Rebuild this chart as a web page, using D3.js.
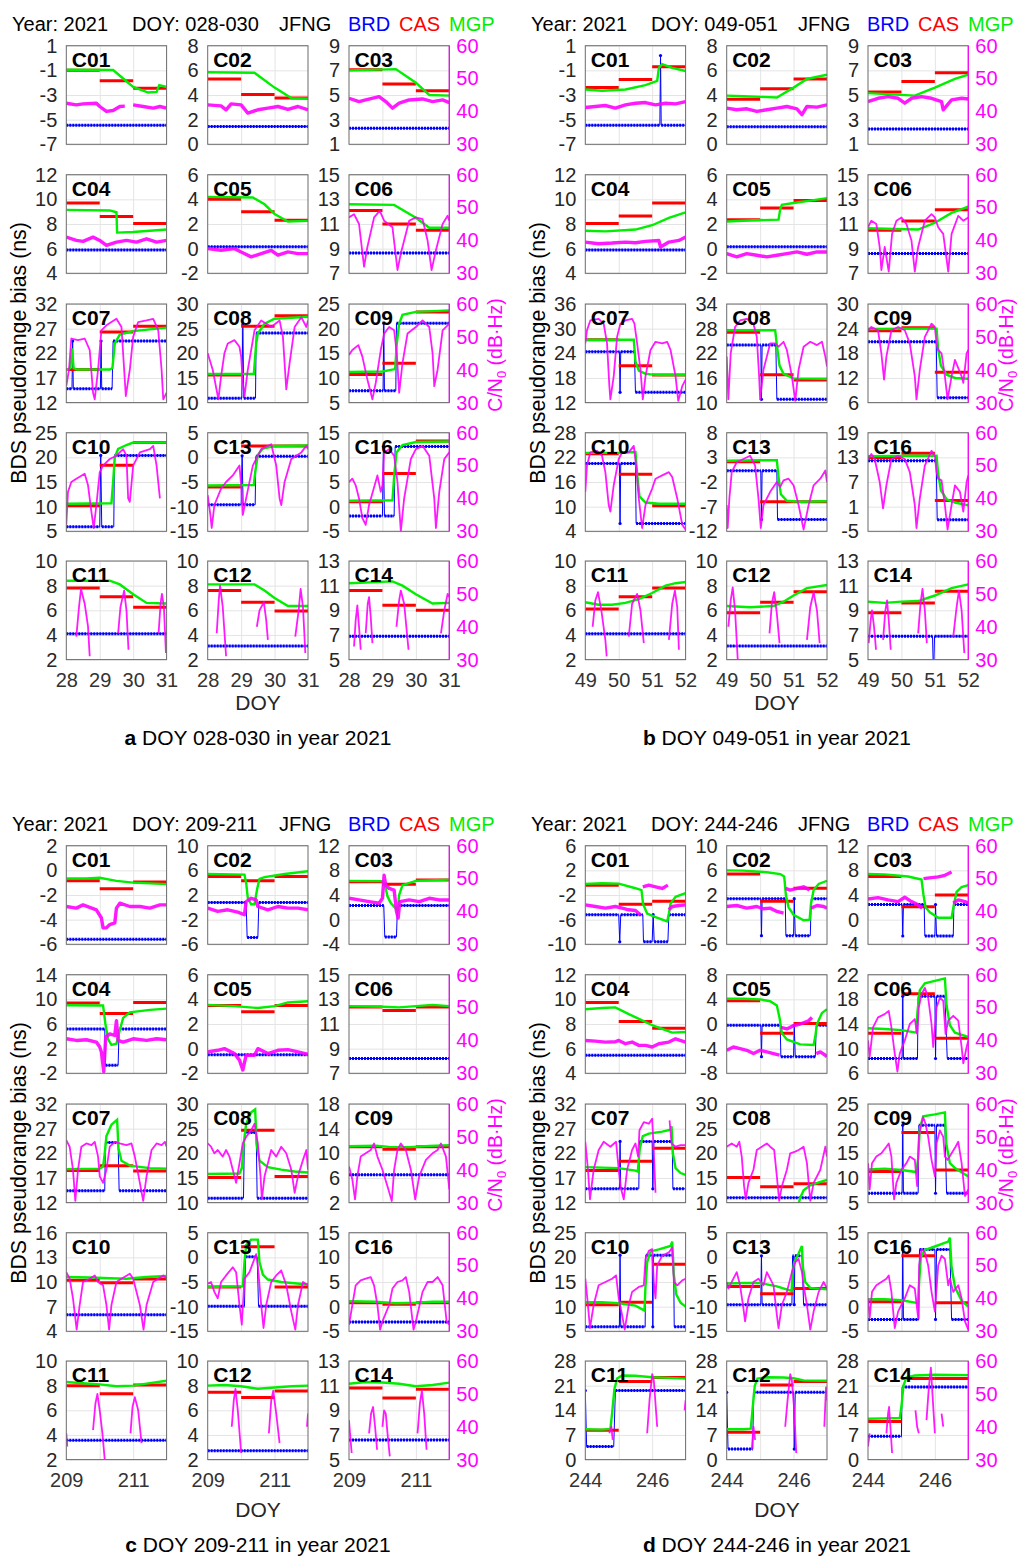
<!DOCTYPE html>
<html>
<head>
<meta charset="utf-8">
<script src="https://cdn.jsdelivr.net/npm/d3@7"></script>
<style>
  body { margin: 0; background: #fff; }
  svg text { font-family: 'Liberation Sans', Arial, Helvetica, sans-serif; }
</style>
</head>
<body>
<svg id="chart" width="1020" height="1556"></svg>
<script>
// ---- data (t = days since first DOY of the panel) ----
const year = 2021;
const station = "JFNG";
const panelStart = [28, 49, 209, 244];
const panelDoy = ["028-030", "049-051", "209-211", "244-246"];
const panelLetter = ["a", "b", "c", "d"];
const satNames = ["C01","C02","C03","C04","C05","C06","C07","C08","C09","C10","C13","C16","C11","C12","C14"];
const cnTicks = [30, 40, 50, 60];
const xTicksAB = [0, 1, 2, 3];
const xTicksCD = [0, 2];

// [min, max, step] of the left (bias) axis
const yAxisA = [[-7,1,2],[0,8,2],[1,9,2],[4,12,2],[-2,6,2],[7,15,2],[12,32,5],[10,30,5],[5,25,5],[5,25,5],[-15,5,5],[-5,15,5],[2,10,2],[2,10,2],[5,13,2]];
const yAxisB = [[-7,1,2],[0,8,2],[1,9,2],[4,12,2],[-2,6,2],[7,15,2],[12,36,6],[10,34,6],[6,30,6],[4,28,6],[-12,8,5],[-5,19,6],[2,10,2],[2,10,2],[5,13,2]];
const yAxisC = [[-6,2,2],[-6,10,4],[-4,12,4],[-2,14,4],[-2,6,2],[7,15,2],[12,32,5],[10,30,5],[2,18,4],[4,16,3],[-15,5,5],[-5,15,5],[2,10,2],[2,10,2],[5,13,2]];
const yAxisD = [[-10,6,4],[-6,10,4],[-4,12,4],[4,12,2],[-8,8,4],[6,22,4],[12,32,5],[10,30,5],[5,25,5],[5,25,5],[-15,5,5],[-5,15,5],[0,28,7],[0,28,7],[0,28,7]];

// CAS daily values (day 1, 2, 3)
const casA = [[-1.0,-1.85,-2.45],[5.3,4.05,3.75],[7.05,5.9,5.35],[9.7,8.6,8.05],[4.0,3.0,2.3],[12.1,11.0,10.5],[18.7,26.3,27.5],[15.6,25.5,27.6],[10.7,13.0,23.4],[10.2,18.4,23.0],[-6.0,2.3,2.3],[1.0,6.7,13.3],[7.8,7.1,6.25],[7.6,6.65,5.95],[10.6,9.4,9.0]];
const casB = [[-2.4,-1.75,-0.7],[3.65,4.5,5.3],[5.25,6.1,6.8],[8.05,8.65,9.7],[2.35,3.3,3.9],[10.5,11.25,12.15],[27.3,21.0,18.7],[27.1,16.8,15.5],[23.5,24.2,13.4],[22.9,17.9,10.2],[2.1,-6.0,-6.0],[12.9,14.0,2.5],[6.1,7.1,7.8],[5.8,6.65,7.5],[8.8,9.6,10.55]];
const casC = [[-0.85,-1.5,-0.95],[5.0,4.3,5.0],[6.15,5.75,6.45],[9.4,7.7,9.5],[3.5,3.0,3.5],[12.37,12.1,12.37],[18.5,19.5,18.4],[15.1,24.7,15.3],[11.05,10.65,11.05],[10.2,9.9,10.35],[-6.0,2.15,-6.0],[0.8,0.5,0.8],[8.0,7.35,8.05],[7.47,7.04,7.57],[10.8,10.0,10.7]];
const casD = [[-0.4,-3.5,-3.0],[5.4,0.97,3.1],[7.0,2.1,4.0],[9.75,8.2,7.66],[3.77,-1.5,0.1],[12.5,18.9,11.7],[18.5,20.4,23.0],[15.1,13.2,13.8],[11.3,19.2,11.6],[10.4,10.9,18.6],[-5.9,-7.4,-6.3],[1.0,10.3,0.8],[8.3,22.2,23.3],[7.8,21.2,22.2],[10.8,23.0,23.0]];

// BRD runs [tStart, tEnd, value]
const brdA = [
  [[0,3,-5.45]],[[0,3,1.45]],[[0,3,2.3]],[[0,3,5.9]],[[0,3,0.15]],[[0,3,8.65]],
  [[0,0.17,14.8],[0.19,0.19,24.5],[0.21,1.02,14.8],[1.04,1.04,24.5],[1.06,1.37,14.8],[1.4,3,24.5]],
  [[0,1.02,10.9],[1.05,1.05,25.8],[1.08,1.43,10.9],[1.45,3,24.1]],
  [[0,1.02,7.4],[1.04,1.04,21.1],[1.06,1.4,7.4],[1.42,3,21.1]],
  [[0,1.0,5.9],[1.03,1.03,20.4],[1.06,1.42,5.9],[1.44,3,20.4]],
  [[0,1.0,-9.6],[1.03,1.03,0.3],[1.06,1.42,-9.6],[1.44,3,0.2]],
  [[0,1.0,-1.9],[1.03,1.03,12.2],[1.06,1.35,-1.9],[1.38,3,12.2]],
  [[0,3,4.1]],[[0,3,3.1]],[[0,3,6.9]]
];
const brdB = [
  [[0,2.23,-5.45],[2.25,2.25,0.2],[2.27,3,-5.45]],
  [[0,3,1.42]],[[0,3,2.25]],[[0,3,5.9]],[[0,3,0.15]],[[0,3,8.6]],
  [[0,1.02,24.4],[1.04,1.04,14.5],[1.06,1.47,24.4],[1.5,3,14.5]],
  [[0,1.02,24.0],[1.04,1.04,10.8],[1.06,1.47,24.0],[1.5,3,10.8]],
  [[0,2.04,20.8],[2.07,3,7.2]],
  [[0,1.02,20.5],[1.04,1.04,5.9],[1.06,1.5,20.5],[1.52,3,5.9]],
  [[0,1.02,0.3],[1.04,1.04,-9.6],[1.06,1.5,0.3],[1.52,3,-9.6]],
  [[0,2.04,12.2],[2.07,3,-2.2]],
  [[0,3,4.1]],[[0,3,3.1]],
  [[0,1.93,6.9],[1.95,1.97,4.6],[1.99,3,6.9]]
];
const brdC = [
  [[0,3,-5.6]],
  [[0,1.15,0.8],[1.18,1.5,-4.9],[1.53,3,0.8]],
  [[0,1.04,2.3],[1.07,1.42,-2.8],[1.45,3,2.3]],
  [[0,1.15,5.2],[1.17,1.55,-0.7],[1.58,3,5.2]],
  [[0,3,-0.5]],[[0,3,8.2]],
  [[0,1.15,14.4],[1.17,1.55,24.2],[1.58,3,14.4]],
  [[0,1.07,10.9],[1.1,1.45,24.2],[1.48,3,10.9]],
  [[0,0.86,6.5],[0.9,3,6.5]],
  [[0,3,6.0]],
  [[0,1.1,-9.9],[1.13,1.48,0.1],[1.52,3,-9.9]],
  [[0,3,-3.1]],[[0,3,3.56]],[[0,3,2.72]],[[0,3,6.6]]
];
const brdD = [
  [[0,1.0,-5.2],[1.03,1.03,-9.6],[1.06,1.72,-5.2],[1.74,2.0,-9.6],[2.03,2.03,-5.2],[2.06,2.47,-9.6],[2.5,3,-5.2]],
  [[0,1.02,1.4],[1.04,1.04,-4.6],[1.06,1.75,1.4],[1.77,2.0,-4.6],[2.02,2.02,1.4],[2.05,2.5,-4.6],[2.53,3,1.4]],
  [[0,1.02,2.45],[1.04,1.04,-2.65],[1.06,1.68,2.45],[1.7,2.0,-2.65],[2.02,2.02,2.45],[2.05,2.55,-2.65],[2.57,3,2.45]],
  [[0,3,5.46]],
  [[0,1.02,-0.2],[1.04,1.04,-5.3],[1.06,1.6,-0.2],[1.62,2.0,-5.3],[2.02,2.02,-0.2],[2.05,2.65,-5.3],[2.68,3,-0.2]],
  [[0,1.02,8.4],[1.04,1.04,18.5],[1.06,1.48,8.4],[1.5,2.0,18.5],[2.02,2.02,8.4],[2.05,2.3,18.5],[2.37,3,8.4]],
  [[0,1.02,14.8],[1.04,1.04,24.4],[1.06,1.6,14.8],[1.62,2.0,24.4],[2.02,2.02,14.8],[2.05,2.6,24.4],[2.62,3,14.8]],
  [[0,3,11.0]],
  [[0,1.02,6.9],[1.04,1.04,20.7],[1.06,1.5,6.9],[1.52,2.0,20.7],[2.02,2.02,6.9],[2.05,2.3,20.7],[2.35,3,6.9]],
  [[0,1.02,5.9],[1.04,1.04,20.45],[1.06,1.79,5.9],[1.81,2.0,20.45],[2.02,2.02,5.9],[2.04,2.64,20.45],[2.66,3,5.9]],
  [[0,1.02,-9.6],[1.04,1.04,0.3],[1.06,1.95,-9.6],[1.97,2.0,0.3],[2.02,2.02,-9.6],[2.04,2.25,0.3],[2.3,3,-9.6]],
  [[0,1.02,-2.6],[1.04,1.04,11.6],[1.06,1.52,-2.6],[1.54,2.0,11.6],[2.02,2.02,-2.6],[2.05,2.45,11.6],[2.5,3,-2.6]],
  [[0,0,19.6],[0.04,0.85,3.7],[0.9,3,19.6]],
  [[0,0,19.1],[0.04,0.78,3.0],[0.8,2.0,19.1],[2.02,2.02,3.0],[2.05,3,19.1]],
  [[0,1.0,6.6],[1.02,3,20.6]]
];

// MGP [t, value]
const mgpA = [
  [[0,-0.95],[1.4,-0.97],[2.0,-2.35],[2.45,-2.8],[2.7,-2.75],[2.78,-2.2],[3,-2.35]],
  [[0,5.85],[1.4,5.8],[2.0,4.6],[2.5,3.75],[3,3.7]],
  [[0,7.0],[1.4,7.1],[2.0,6.0],[2.4,5.0],[3,4.95]],
  [[0,9.15],[1.3,9.1],[1.5,8.95],[1.52,7.3],[2.0,7.35],[3,7.55]],
  [[0,4.2],[1.35,4.15],[1.7,3.6],[2.0,2.8],[2.4,2.2],[3,2.25]],
  [[0,12.6],[1.35,12.55],[2.0,11.5],[2.4,10.7],[3,10.7]],
  [[0,18.6],[0.12,19],[0.17,23],[0.22,19],[0.3,18.7],[1.3,18.7],[1.38,19],[1.45,24],[1.6,25.8],[2.0,26.5],[3,27.2]],
  [[0,15.8],[1.38,15.8],[1.45,22],[1.5,24],[1.7,26],[2.0,27],[3,27.4]],
  [[0,11.2],[1.0,11.3],[1.38,11.8],[1.43,17],[1.5,21],[1.6,22.8],[2.0,23.4],[3,23.7]],
  [[0,10.6],[1.35,10.7],[1.4,15],[1.45,20],[1.55,21.7],[1.8,22.5],[2.0,23],[3,23]],
  [[0,-5.7],[1.38,-5.6],[1.42,-3],[1.5,0.5],[1.65,1.8],[2.0,2.3],[3,2.4]],
  [[0,1.2],[1.3,1.3],[1.36,7],[1.42,11],[1.6,12.5],[2.0,13.1],[3,13.2]],
  [[0,8.4],[1.3,8.4],[1.6,8.1],[2.0,7.3],[2.4,6.6],[3,6.55]],
  [[0,8.1],[1.4,8.1],[1.7,7.6],[2.0,7.0],[2.4,6.35],[3,6.35]],
  [[0,11.2],[1.3,11.35],[1.6,11.0],[2.0,10.3],[2.5,9.55],[3,9.6]]
];
const mgpB = [
  [[0,-2.55],[0.5,-2.65],[1.2,-2.55],[1.8,-2.2],[2.15,-1.85],[2.2,-0.8],[2.3,-0.5],[2.6,-0.8],[3,-1.05]],
  [[0,3.95],[0.5,3.9],[1.0,3.85],[1.5,3.8],[2.0,4.6],[2.4,5.3],[3,5.65]],
  [[0,5.15],[0.7,5.05],[1.4,4.95],[2.0,5.6],[2.6,6.3],[3,6.65]],
  [[0,7.45],[0.6,7.4],[1.5,7.55],[2.0,7.9],[2.5,8.5],[3,8.95]],
  [[0,2.2],[0.8,2.3],[1.55,2.35],[1.6,3.2],[1.65,3.55],[2.0,3.7],[2.5,3.9],[3,4.1]],
  [[0,10.65],[0.8,10.6],[1.5,10.55],[2.0,11.1],[2.5,11.9],[3,12.4]],
  [[0,27.3],[1.45,27.3],[1.5,22],[1.6,19.8],[1.8,19.0],[2.2,18.7],[3,18.7]],
  [[0,27.6],[1.45,27.6],[1.5,24],[1.58,19],[1.7,17],[2.0,15.9],[3,15.8]],
  [[0,23.9],[1.5,24.0],[2.05,24.0],[2.1,19],[2.18,15],[2.35,12.8],[2.6,12.0],[3,11.8]],
  [[0,23.1],[1.0,23.1],[1.5,23.3],[1.55,18],[1.62,12.5],[1.8,11.0],[2.2,10.7],[3,10.7]],
  [[0,2.3],[1.0,2.4],[1.5,2.4],[1.55,-1],[1.62,-4.5],[1.8,-5.8],[2.2,-6.0],[3,-5.9]],
  [[0,13.3],[1.5,13.4],[2.05,13.4],[2.1,9],[2.18,5],[2.35,2.8],[2.6,2.0],[3,1.3]],
  [[0,6.65],[0.4,6.45],[0.8,6.45],[1.2,6.6],[1.6,6.9],[2.0,7.4],[2.4,8.0],[2.7,8.2],[3,8.3]],
  [[0,6.35],[0.7,6.25],[1.4,6.35],[1.7,6.7],[2.0,7.2],[2.4,7.8],[3,8.05]],
  [[0,9.7],[0.5,9.6],[1.0,9.7],[1.5,9.75],[2.0,10.2],[2.5,10.8],[3,11.1]]
];
const mgpC = [
  [[0,-0.65],[0.6,-0.65],[1.0,-0.6],[1.5,-0.85],[2.0,-1.0],[3,-1.12]],
  [[0,5.4],[1.1,5.3],[1.15,4],[1.2,1.5],[1.3,0.5],[1.4,0.5],[1.48,3],[1.55,4.6],[1.7,4.9],[2.3,5.4],[3,5.85]],
  [[0,6.3],[1.0,6.25],[1.08,5.5],[1.15,3.8],[1.25,2.7],[1.4,1.8],[1.45,1.6],[1.5,4],[1.6,5.6],[2.0,6.3],[3,6.5]],
  [[0,9.05],[1.1,9.0],[1.17,6],[1.25,3.5],[1.35,2.6],[1.5,2.8],[1.6,5],[1.7,7],[1.9,7.9],[2.5,8.3],[3,8.5]],
  [[0,3.55],[0.8,3.45],[1.5,3.3],[2.0,3.45],[2.4,3.75],[3,3.85]],
  [[0,12.45],[1.0,12.4],[1.5,12.35],[2.0,12.45],[2.5,12.55],[3,12.45]],
  [[0,18.8],[1.0,18.9],[1.1,19.3],[1.15,22],[1.2,25.5],[1.35,27.8],[1.52,28.8],[1.56,23],[1.65,20.5],[1.9,19.5],[2.5,19],[3,18.9]],
  [[0,15.8],[0.95,15.9],[1.02,17],[1.08,22],[1.15,26],[1.3,28.3],[1.42,28.9],[1.46,22],[1.55,18.5],[1.8,17.2],[2.2,16.7],[2.6,16.3],[3,16.1]],
  [[0,11.15],[0.8,11.25],[1.2,11.05],[1.8,11.0],[2.4,11.2],[3,11.3]],
  [[0,10.6],[0.7,10.55],[1.3,10.45],[1.8,10.4],[2.4,10.6],[3,10.75]],
  [[0,-6.0],[1.05,-5.9],[1.1,-1],[1.15,2.5],[1.3,3.6],[1.5,3.6],[1.55,-1],[1.65,-3.5],[1.8,-4.5],[2.2,-5.0],[3,-5.5]],
  [[0,1.1],[0.8,1.0],[1.4,0.7],[2.0,0.8],[2.5,1.0],[3,1.0]],
  [[0,8.3],[0.5,8.2],[1.0,8.1],[1.5,7.95],[2.0,8.0],[2.5,8.2],[3,8.4]],
  [[0,8.0],[0.5,8.05],[1.0,7.95],[1.5,7.75],[2.0,7.85],[2.5,7.95],[3,8.0]],
  [[0,11.15],[0.5,11.3],[1.0,11.25],[1.5,11.15],[2.0,10.95],[2.5,11.05],[3,11.25]]
];
const mgpD = [
  [[0,-0.2],[0.5,-0.1],[1.0,-0.15],[1.5,-0.9],[1.68,-1.2],[1.73,-3.5],[1.85,-5],[2.1,-5.6],[2.45,-6.3],[2.5,-5],[2.55,-3.4],[2.7,-2.3],[3,-1.7]],
  [[0,6.0],[0.5,5.95],[1.2,5.7],[1.6,5.4],[1.72,5.0],[1.77,2],[1.85,0],[2.0,-1.2],[2.3,-2.1],[2.48,-2.0],[2.52,0.5],[2.6,2.8],[2.75,3.8],[3,4.3]],
  [[0,7.4],[0.5,7.35],[1.2,7.0],[1.6,6.5],[1.66,4],[1.72,2],[1.85,1.2],[2.1,0.3],[2.5,0.3],[2.57,2.5],[2.65,4.5],[2.8,5.3],[3,5.6]],
  [[0,9.2],[0.5,9.3],[0.9,9.35],[1.3,8.8],[1.7,8.3],[2.0,7.9],[2.3,7.6],[2.6,7.3],[3,7.35]],
  [[0,4.1],[0.5,4.1],[1.0,4.0],[1.3,3.7],[1.5,3.0],[1.58,1],[1.65,-1.5],[1.8,-2.5],[2.2,-3.3],[2.6,-3.4],[2.65,-2],[2.7,0],[2.85,1.8],[3,2.4]],
  [[0,13.3],[0.5,13.2],[1.0,13.0],[1.45,12.6],[1.48,16],[1.55,19.5],[1.7,20.6],[2.0,21],[2.3,21.4],[2.35,17],[2.45,13.8],[2.6,12.6],[3,11.9]],
  [[0,19.2],[0.5,19.1],[1.0,19.0],[1.5,18.5],[1.57,18.3],[1.63,23],[1.72,25.5],[1.9,26],[2.3,26.4],[2.55,26.8],[2.58,27.5],[2.62,22],[2.7,19],[2.85,18],[3,17.6]],
  [[2.15,9.8],[2.2,11],[2.3,12.5],[2.5,13.5],[2.8,14.2],[3,14.6]],
  [[0,11.7],[0.5,11.9],[1.0,11.6],[1.45,11.2],[1.5,14],[1.55,20],[1.65,22.5],[2.0,22.9],[2.3,23.3],[2.34,17],[2.45,13],[2.6,12],[3,10.3]],
  [[0,10.9],[0.5,10.9],[1.0,10.7],[1.5,10.2],[1.77,9.2],[1.8,14],[1.85,19],[1.95,21.2],[2.2,21.6],[2.55,22.3],[2.6,23.2],[2.64,17],[2.72,12.5],[2.85,10.8],[3,10]],
  [[0,-5.3],[0.5,-5.2],[1.0,-5.2],[1.5,-5.9],[1.94,-6.8],[1.97,-3],[2.02,-1],[2.15,0.8],[2.25,2.3],[2.28,-2],[2.35,-5],[2.5,-6.2],[3,-6.5]],
  [[0,1.5],[0.5,1.5],[1.0,1.3],[1.5,0.7],[1.53,5],[1.58,10],[1.7,11.5],[2.0,12.2],[2.4,13.2],[2.45,14],[2.5,8],[2.6,4],[2.8,1.2],[3,0.0]],
  [[0,8.6],[0.5,8.5],[0.75,8.7],[0.8,13],[0.87,20],[0.95,23],[1.1,23.9],[1.5,23.8],[2.0,23.4],[2.5,23.2],[3,23.0]],
  [[0,8.6],[0.5,8.6],[0.72,8.8],[0.78,15],[0.84,21],[0.92,23],[1.2,23.4],[1.7,23.3],[2.0,23.1],[2.3,22.5],[3,22.4]],
  [[0,11.6],[0.5,11.7],[0.95,11.8],[1.0,15],[1.06,21],[1.15,23.3],[1.4,23.9],[2.0,24.1],[3,24.0]]
];

// C/N0 [t, dB-Hz], null = gap in tracking
const cn0A = [
  [[0,42.5],[0.3,42],[0.5,42.3],[0.9,42.5],[1.0,41.5],[1.2,40],[1.4,40.3],[1.6,41.5],[1.75,41.6],null,[2.0,42],[2.3,41.5],[2.6,41],[2.8,41.5],[3,41]],
  [[0,42],[0.4,41.7],[0.55,40.5],[0.7,42.3],[1.0,42],[1.2,39.5],[1.5,40.5],[1.8,41],[2.1,41.5],[2.4,40.6],[2.7,41.5],[3,40.5]],
  [[0,44],[0.3,43],[0.5,43.5],[0.9,44.5],[1.1,43],[1.3,41],[1.5,42.5],[1.8,43.5],[2.2,43.8],[2.5,43],[2.8,43.5],[3,42.7]],
  [[0,41],[0.3,40],[0.5,39.7],[0.8,41],[1.0,40],[1.2,38.5],[1.5,39.5],[1.8,40],[2.1,39.5],[2.4,40.5],[2.7,39.5],[3,40]],
  [[0,37.5],[0.4,37],[0.8,37.5],[1.0,36.5],[1.3,35],[1.6,36],[1.9,37],[2.1,35.5],[2.4,36.5],[2.7,36],[3,36]],
  [[0,47],[0.15,48],[0.3,45],[0.45,32],[0.55,38],[0.75,47],[0.92,49],[1.05,46],[1.3,44],[1.45,31],[1.55,36],[1.8,46],[2.0,47],[2.2,46.5],[2.35,40],[2.47,31],[2.6,37],[2.8,45],[2.95,47.5],[3,46]],
  [[0,35],[0.08,40],[0.15,49.5],[0.35,49],[0.55,49.5],[0.7,46],[0.8,33],[0.85,31],[0.95,40],[1.05,52],[1.2,53.5],[1.5,55.5],[1.65,53],[1.78,32],[1.9,40],[2.0,50],[2.15,54.5],[2.4,55],[2.6,55.5],[2.75,52],[2.85,40],[2.9,31],[3,33]],
  [[0,45],[0.15,40],[0.32,31],[0.4,38],[0.5,45],[0.6,48],[0.8,49],[0.95,47],[1.0,44],[1.05,36],[1.1,32],[1.2,40],[1.4,52],[1.6,55],[1.9,53],[2.15,55],[2.25,50],[2.35,34],[2.45,42],[2.6,53],[2.8,56],[2.95,53],[3,55]],
  [[0,44.5],[0.1,46],[0.28,47.5],[0.4,44],[0.55,37],[0.7,31],[0.8,36],[0.95,46],[1.05,51],[1.2,53],[1.35,52],[1.43,45],[1.5,33],[1.6,42],[1.75,51],[2.0,53],[2.2,55],[2.4,53],[2.5,45],[2.55,35],[2.65,40],[2.8,52],[3,54]],
  [[0,32],[0.05,42],[0.15,45],[0.3,46],[0.55,47.5],[0.65,44],[0.75,36],[0.82,31],[0.9,38],[1.0,48],[1.1,50],[1.3,52],[1.5,53],[1.7,55],[1.8,53],[1.85,40],[1.9,39],[2.0,50],[2.2,54],[2.5,55],[2.6,56],[2.7,50],[2.8,40]],
  [[0,41],[0.08,35],[0.12,31],[0.2,38],[0.4,43],[0.55,45],[0.75,47],[0.95,50],[1.0,44],[1.05,35],[1.15,40],[1.35,50],[1.6,55],[1.9,56.5],[2.05,50],[2.15,40],[2.2,38],[2.3,45],[2.5,52],[2.8,54],[2.95,56],[3,55]],
  [[0,45],[0.1,46],[0.2,44],[0.3,40],[0.4,34],[0.5,32],[0.6,38],[0.85,47],[0.95,42],[1.0,44],[1.05,54],[1.2,55],[1.35,53],[1.45,45],[1.55,30],[1.65,40],[1.85,52],[2.0,55],[2.2,56],[2.4,53],[2.55,40],[2.6,31],[2.7,42],[2.85,52],[3,54]],
  [[0.3,37],[0.38,46],[0.44,51.5],[0.55,47],[0.65,40],[0.7,31],null,[1.55,38],[1.62,46],[1.73,51],[1.8,45],[1.86,33],null,[2.76,38],[2.82,47],[2.86,50],[2.92,46],[2.98,32]],
  [[0.27,38],[0.33,48],[0.37,52.5],[0.45,46],[0.55,31],null,[1.47,40],[1.55,45],[1.68,47.5],[1.75,42],[1.8,36],null,[2.62,37],[2.72,45],[2.78,51.5],[2.85,46],[2.92,32]],
  [[0.15,34],[0.2,42],[0.25,46.5],[0.3,40],[0.35,33],null,[0.5,38],[0.56,47],[0.6,49],[0.65,43],[0.7,35],null,[1.42,40],[1.5,48],[1.55,51],[1.65,47],[1.78,33],null,[2.75,38],[2.85,45],[2.95,50],[3,49]]
];
const cn0B = [
  [[0,41.2],[0.3,41.5],[0.6,41.8],[0.9,41],[1.2,42],[1.5,42.5],[1.8,42.7],[2.1,42],[2.4,42.5],[2.7,42.3],[3,43]],
  [[0,41],[0.3,40.5],[0.6,40.8],[0.9,40],[1.2,40.5],[1.5,41],[1.8,41.5],[2.1,40.8],[2.25,39],[2.4,41.5],[2.7,41.3],[3,42]],
  [[0,43],[0.3,44],[0.6,44.5],[0.9,44],[1.1,42.5],[1.3,44],[1.6,44.5],[1.9,44],[2.2,43],[2.25,40.5],[2.5,43.5],[2.8,44],[3,43.8]],
  [[0,39.5],[0.4,39],[0.8,39.2],[1.2,39.5],[1.5,39.3],[1.8,39.7],[2.2,40],[2.25,38],[2.5,39.5],[2.8,40],[3,41]],
  [[0,36],[0.3,35],[0.6,36],[0.9,35.5],[1.2,35],[1.5,35.5],[1.8,36],[2.1,36.5],[2.4,35.8],[2.7,36.5],[3,36.5]],
  [[0,44],[0.1,46],[0.25,45],[0.35,38],[0.4,31],[0.5,38],[0.62,30.5],[0.72,42],[0.85,46],[1.0,47],[1.15,45],[1.3,40],[1.4,30.5],[1.5,38],[1.7,46],[1.9,48],[2.0,47],[2.1,44],[2.25,42],[2.4,30.5],[2.5,42],[2.7,47.5],[2.85,46],[3,47]],
  [[0,48],[0.05,52],[0.15,55],[0.4,55.5],[0.55,54],[0.65,48],[0.72,35],[0.75,31],[0.85,38],[0.95,50],[1.05,54],[1.2,55],[1.4,55.5],[1.47,54],[1.55,48],[1.65,40],[1.72,31],[1.8,38],[1.95,46],[2.1,48.5],[2.3,48],[2.45,48.5],[2.55,46],[2.7,38],[2.78,30.5],[2.9,35],[3,37]],
  [[0,44],[0.03,36],[0.05,31],[0.12,45],[0.25,53],[0.4,55],[0.6,55.5],[0.8,54],[0.9,50],[0.97,38],[1.0,31],[1.1,40],[1.3,48],[1.45,48],[1.55,47],[1.7,48.5],[1.8,46],[1.95,38],[2.05,30.5],[2.15,40],[2.3,47],[2.5,48.5],[2.7,47.5],[2.85,48.5],[2.95,44],[3,41]],
  [[0,52],[0.1,53],[0.3,52],[0.4,45],[0.48,37],[0.55,44],[0.7,52],[0.9,53],[1.1,52],[1.25,48],[1.4,38],[1.45,31],[1.55,40],[1.7,50],[1.9,54],[2.0,53],[2.05,48],[2.1,46],[2.2,45],[2.3,38],[2.38,31],[2.5,38],[2.6,43],[2.8,38],[2.85,36],[2.95,45],[3,46]],
  [[0,42],[0.05,50],[0.15,54],[0.35,54.5],[0.5,53],[0.6,48],[0.7,38],[0.75,36],[0.85,44],[1.0,52],[1.1,54],[1.3,54],[1.45,56],[1.52,50],[1.6,40],[1.7,31],[1.8,38],[2.0,43],[2.1,46],[2.3,47],[2.5,48],[2.6,46.5],[2.75,40],[2.9,32],[3,30.5]],
  [[0,38],[0.03,31],[0.08,40],[0.15,48],[0.3,51],[0.5,52],[0.7,53],[0.85,50],[0.95,40],[1.02,31],[1.1,38],[1.3,42],[1.5,45],[1.6,43.5],[1.7,45.5],[1.85,46],[2.0,44],[2.15,38],[2.3,30.5],[2.45,38],[2.6,44],[2.8,46],[2.95,48.5],[3,45]],
  [[0,52],[0.1,53.5],[0.2,52],[0.35,45],[0.45,37],[0.55,44],[0.7,52],[0.9,53],[1.1,52],[1.25,48],[1.4,38],[1.45,31],[1.55,40],[1.7,50],[1.9,54.5],[2.0,53],[2.05,48],[2.1,46],[2.2,45.5],[2.3,38],[2.38,30.5],[2.5,38],[2.6,44],[2.75,42],[2.85,36],[2.95,45],[3,47]],
  [[0.22,40],[0.3,48],[0.38,50.5],[0.48,45],[0.6,36],[0.64,31],null,[1.3,37],[1.4,47],[1.55,50],[1.65,45],[1.75,35],null,[2.5,36],[2.6,47],[2.68,51],[2.75,46],[2.8,33]],
  [[0.05,40],[0.12,48],[0.18,52],[0.25,45],[0.33,30],null,[1.28,38],[1.35,47],[1.42,50.5],[1.5,44],[1.58,35],null,[2.4,36],[2.5,46],[2.6,50.5],[2.7,45],[2.78,35]],
  [[0.02,35],[0.08,42],[0.12,45],[0.18,40],[0.24,33],null,[0.45,36],[0.52,45],[0.57,48],[0.62,42],[0.68,33],null,[1.5,38],[1.57,47],[1.63,51.5],[1.7,45],[1.76,35],null,[2.55,37],[2.65,46],[2.72,51],[2.8,45],[2.88,32]]
];
const cn0C = [
  [[0,41.5],[0.3,41],[0.5,42],[0.9,40.5],[1.05,38],[1.1,35],[1.2,35],[1.3,36],[1.45,36.5],[1.5,41],[1.6,42.5],[1.9,41.5],[2.2,41.5],[2.5,41],[2.8,42],[3,42]],
  [[0,41],[0.3,40],[0.6,40.5],[0.9,39.8],[1.1,39],[1.15,43],[1.3,44],[1.45,43.5],[1.5,41.5],[1.8,40.5],[2.1,41.5],[2.4,41],[2.7,41],[3,40.5]],
  [[0,44],[0.3,43.5],[0.6,43],[0.9,42.5],[1.0,44],[1.05,51],[1.1,48],[1.2,47],[1.35,46.5],[1.42,40],[1.47,38],[1.52,43],[1.8,43.5],[2.1,43],[2.4,44],[2.7,43.5],[3,43.5]],
  [[0,40.5],[0.3,40],[0.6,40.2],[0.9,39.5],[1.0,38],[1.05,36.5],[1.12,30.5],[1.18,41],[1.3,42],[1.45,41.5],[1.5,46],[1.55,40],[1.7,39.5],[2.0,40.5],[2.4,40],[2.7,40.5],[3,40.2]],
  [[0,36.5],[0.3,37],[0.5,37.5],[0.8,36],[0.95,34],[1.05,31],[1.15,35.5],[1.4,35.5],[1.5,37.5],[1.8,36],[2.1,37],[2.4,37.2],[2.7,36.5],[3,35.8]],
  [],
  [[0,49],[0.1,47],[0.2,40],[0.27,30.5],[0.35,40],[0.45,47],[0.6,48],[0.75,47.5],[0.85,48.5],[0.95,44],[1.0,38],[1.1,36],[1.2,40],[1.3,47],[1.45,48.5],[1.6,48],[1.8,47.5],[1.95,48],[2.05,44],[2.2,36],[2.3,30.5],[2.4,38],[2.55,46],[2.7,48],[2.85,47.5],[2.95,48.5],[3,47]],
  [[0,48],[0.1,47],[0.2,45],[0.3,46],[0.45,44],[0.55,46],[0.65,44],[0.75,40],[0.85,36],[0.95,42],[1.05,48],[1.15,50],[1.3,52],[1.4,54],[1.5,48],[1.58,38],[1.62,31],[1.7,38],[1.9,46],[2.05,44],[2.2,47],[2.35,45],[2.5,40],[2.6,33],[2.7,38],[2.85,43],[2.95,46],[3,40]],
  [[0,41],[0.1,37],[0.18,31],[0.25,38],[0.35,44],[0.5,45],[0.65,46],[0.75,48],[0.85,44],[1.0,40],[1.15,35],[1.28,30.5],[1.35,40],[1.45,46],[1.55,48],[1.7,46],[1.85,40],[1.98,31],[2.1,38],[2.3,43],[2.5,45],[2.65,46],[2.75,48],[2.9,44],[3,34]],
  [[0,48],[0.1,46],[0.2,40],[0.31,30.5],[0.4,38],[0.5,45],[0.7,46],[0.85,47],[0.95,45],[1.1,44],[1.2,38],[1.28,30.5],[1.35,38],[1.5,45],[1.65,46],[1.9,47.5],[2.0,46],[2.2,38],[2.31,30.5],[2.4,38],[2.6,45],[2.75,46],[2.9,47],[3,46]],
  [[0,44.5],[0.1,45],[0.2,42],[0.3,40],[0.4,45],[0.55,47],[0.75,49.5],[0.85,48],[0.95,38],[1.02,32],[1.1,46],[1.25,48],[1.45,53.5],[1.5,50],[1.6,38],[1.67,31],[1.75,38],[1.9,45],[2.05,47],[2.2,48.5],[2.35,44],[2.5,36],[2.62,30.5],[2.7,38],[2.85,45],[3,44]],
  [[0,32],[0.1,38],[0.2,44],[0.35,45.5],[0.5,46],[0.65,46.5],[0.75,44],[0.85,38],[0.93,30.5],[1.0,33],[1.2,38],[1.3,43],[1.45,45],[1.6,45.5],[1.7,46.5],[1.8,42],[1.93,30.5],[2.0,33],[2.2,42],[2.35,45],[2.5,45],[2.65,46.5],[2.8,44],[2.92,33],[3,32]],
  [[0,38],[0.03,34],null,[0.8,39],[0.87,47],[0.93,50],[1.0,45],[1.08,38],[1.15,30],null,[1.92,38],[1.98,46],[2.05,49],[2.15,45],[2.25,35]],
  [[0.72,40],[0.78,48],[0.83,51.5],[0.9,45],[1.0,32],null,[1.83,38],[1.9,48],[1.96,51],[2.05,44],[2.15,35],null,[2.97,40],[3,44]],
  [[0,42],[0.03,38],[0.08,32],null,[0.6,38],[0.66,44],[0.72,46],[0.78,40],[0.84,33],null,[1.0,40],[1.05,45],[1.1,44],[1.17,36],[1.22,31],null,[2.05,38],[2.12,47],[2.18,51],[2.25,44],[2.32,33]]
];
const cn0D = [
  [[0,42],[0.3,41.5],[0.6,41],[0.9,41.5],[1.1,41],[1.3,40.5],[1.5,40.3],[1.65,39],null,[1.72,47.5],[1.9,48],[2.1,47.5],[2.3,47],[2.47,48],null,[2.5,40.5],[2.6,41.5],[2.8,41.8],[3,42]],
  [[0,41.5],[0.3,41.8],[0.6,41],[0.9,41.5],[1.1,40.8],[1.3,41],[1.5,40],[1.7,39.5],null,[1.76,47],[1.9,46.5],[2.1,47],[2.3,47.5],[2.48,46.5],null,[2.52,41],[2.7,41.8],[2.9,41.5],[3,41]],
  [[0,43.8],[0.3,44.2],[0.6,43.5],[0.9,43],[1.1,44.3],[1.3,43],[1.5,42],[1.62,41],null,[1.66,50],[1.9,50.3],[2.1,50.5],[2.3,51],[2.5,52],null,[2.55,42.5],[2.7,43.5],[2.9,43],[3,42.5]],
  [[0,40],[0.3,39.8],[0.6,39.5],[0.9,39.6],[1.0,40],[1.2,39],[1.4,39.5],[1.6,38.5],[1.8,38.5],[2.0,38],[2.2,39],[2.5,39.5],[2.7,40.5],[3,39.5]],
  [[0,37],[0.2,38],[0.4,37.5],[0.6,37],[0.8,36],[1.0,37],[1.2,36.5],[1.4,36],[1.58,35.5],null,[1.62,44],[1.8,43.5],[2.0,44.5],[2.2,45],[2.45,46],[2.55,47],null,[2.68,36],[2.8,36.5],[2.95,35.5],[3,35]],
  [[0,40],[0.05,35],[0.15,44],[0.3,47],[0.5,48],[0.62,49],[0.7,44],[0.8,36],[0.88,30.5],[0.95,36],[1.1,40],[1.25,45],[1.4,46.5],[1.47,42],[1.52,50],[1.6,54],[1.7,56],[1.8,53],[1.9,45],[1.95,38],[2.05,50],[2.15,53],[2.25,52],[2.32,42],[2.4,46],[2.55,47.5],[2.7,46],[2.8,38],[2.85,33],[2.95,38],[3,40]],
  [[0,48.5],[0.08,40],[0.14,31],[0.25,40],[0.4,46],[0.55,48.5],[0.75,47],[0.92,48.5],[1.0,40],[1.05,35],[1.15,31],[1.25,40],[1.4,46],[1.5,48],[1.58,44],[1.62,52],[1.75,54.5],[1.9,54],[2.0,55.5],[2.05,45],[2.1,33],null,[2.52,55],[2.58,48],[2.7,47],[2.85,47.5],[3,47.5]],
  [[0,47],[0.15,48],[0.3,47],[0.38,48.5],[0.45,44],[0.52,35],[0.57,31],[0.65,36],[0.8,40],[0.9,46],[1.05,47],[1.2,48],[1.3,47],[1.42,46],[1.5,38],[1.57,30.5],[1.65,35],[1.8,40],[1.9,45],[2.05,45.5],[2.15,46],[2.3,47],[2.4,42],[2.5,30.5],[2.6,36],[2.8,40],[2.95,47],[3,44]],
  [[0,42],[0.05,34],[0.12,42],[0.25,44],[0.4,45],[0.55,47],[0.62,48],[0.7,44],[0.78,31],[0.85,36],[1.0,40],[1.15,42],[1.25,44],[1.4,43],[1.47,35],[1.52,50],[1.6,54],[1.65,56],[1.72,54],[1.8,50],[1.9,43],[2.0,38],[2.05,48],[2.15,52],[2.25,50],[2.3,44],[2.38,43],[2.5,45],[2.62,47],[2.7,48.5],[2.8,42],[2.9,32],[3,34]],
  [[0,46],[0.06,40],[0.14,31],[0.25,38],[0.4,44],[0.6,45],[0.8,46],[0.92,47],[1.0,40],[1.1,35],[1.18,30.5],[1.3,38],[1.4,42],[1.6,43.5],[1.75,44],[1.8,52],[1.9,54.5],[2.0,55],[2.05,45],[2.1,40],[2.15,50],[2.3,53],[2.5,54],[2.6,55.5],[2.65,45],[2.75,44],[2.9,45.5],[3,46]],
  [[0,45],[0.05,43],[0.2,46],[0.3,48],[0.4,44],[0.5,37],[0.55,33],[0.65,40],[0.8,45],[0.95,46],[1.1,44],[1.2,48],[1.3,46],[1.4,44],[1.5,35],[1.55,31],[1.65,38],[1.8,42],[1.95,48],[2.05,51],[2.15,52],[2.25,48],[2.3,44],[2.4,38],[2.5,30.5],[2.6,36],[2.75,42],[2.9,45],[3,43]],
  [[0,40],[0.05,34],[0.12,42],[0.25,44],[0.4,45],[0.55,46],[0.62,47],[0.7,42],[0.8,31],[0.9,36],[1.0,38],[1.1,40],[1.25,44],[1.4,43],[1.5,34],[1.53,50],[1.6,55],[1.7,54],[1.8,50],[1.9,42],[2.0,36],[2.1,50],[2.2,53],[2.3,52],[2.4,44],[2.45,46],[2.55,42],[2.7,44],[2.8,40],[2.9,33],[3,30.5]],
  [[0.72,38],[0.78,40],[0.82,36],null,[1.85,38],[1.92,48],[2.0,56],[2.05,54],[2.1,47],[2.15,40],null,[2.97,45],[3,48]],
  [[0.75,33],[0.8,40],[0.85,36],null,[1.75,40],[1.82,48],[1.9,56],[1.95,54],[2.02,45],[2.08,32],null,[2.92,40],[2.97,52],[3,48]],
  [[0,34],[0.05,38],null,[0.55,38],[0.6,44],[0.63,46],[0.67,40],[0.72,32],null,[1.42,45],[1.47,40],[1.52,38],null,[1.75,42],[1.82,52],[1.88,58],[1.94,48],[2.0,38],null,[2.2,44],[2.25,40]]
];

// ---- layout ----
const BLUE = "#0000ff", RED = "#ff0000", GREEN = "#00ee00", MAGENTA = "#ff00ff";
const boxW = 100.3, boxH = 98.6;
const colX = [66.3, 207.7, 349];
const rowY = [45.7, 174.7, 304, 432.7, 561];
const panelOrigin = [[0,0],[519,0],[0,800],[519,800]];
const lowerShift = [0, 0, 7, 7];
const rightLabelX = [502, 494, 502, 494];
const TICK_FS = 20;

const panels = [0,1,2,3].map(k => ({
  start: panelStart[k], doy: panelDoy[k], letter: panelLetter[k],
  yAxes: [yAxisA, yAxisB, yAxisC, yAxisD][k],
  cas: [casA, casB, casC, casD][k],
  brd: [brdA, brdB, brdC, brdD][k],
  mgp: [mgpA, mgpB, mgpC, mgpD][k],
  cn0: [cn0A, cn0B, cn0C, cn0D][k],
  xTicks: k < 2 ? xTicksAB : xTicksCD
}));

const svg = d3.select("#chart");
svg.append("rect").attr("width", 1020).attr("height", 1556).attr("fill", "#fff");

function drawSub(g, P, pi, i) {
  const col = i % 3, row = Math.floor(i / 3);
  const sg = g.append("g").attr("transform", `translate(${colX[col]},${rowY[row]})`);
  const [y0, y1, ys] = P.yAxes[i];
  const x = d3.scaleLinear().domain([0, 3]).range([0, boxW]);
  const y = d3.scaleLinear().domain([y0, y1]).range([boxH, 0]);
  const yr = d3.scaleLinear().domain([30, 60]).range([boxH, 0]);
  const yTicks = d3.range(y0, y1 + ys / 2, ys);

  // grid
  sg.append("g").call(d3.axisLeft(y).tickValues(yTicks).tickSize(-boxW).tickFormat(""))
    .call(a => a.select(".domain").remove())
    .call(a => a.selectAll("line").attr("stroke", "#e4e4e4"));
  sg.append("g").attr("transform", `translate(0,${boxH})`)
    .call(d3.axisBottom(x).tickValues([1, 2]).tickSize(-boxH).tickFormat(""))
    .call(a => a.select(".domain").remove())
    .call(a => a.selectAll("line").attr("stroke", "#e4e4e4"));

  const clipId = `clip-${pi}-${i}`;
  sg.append("clipPath").attr("id", clipId).append("rect").attr("width", boxW).attr("height", boxH);
  const dg = sg.append("g").attr("clip-path", `url(#${clipId})`);

  // BRD
  const runs = P.brd[i];
  const brdPts = runs.flatMap(r => [[r[0], r[2]], [r[1], r[2]]]);
  dg.append("path").datum(brdPts)
    .attr("d", d3.line().x(d => x(d[0])).y(d => y(d[1])))
    .attr("fill", "none").attr("stroke", BLUE).attr("stroke-width", 1);
  dg.selectAll(".brd").data(runs.filter(r => r[1] > r[0])).join("line")
    .attr("x1", r => x(r[0])).attr("x2", r => x(r[1]))
    .attr("y1", r => y(r[2])).attr("y2", r => y(r[2]))
    .attr("stroke", BLUE).attr("stroke-width", 3).attr("stroke-dasharray", "2,1");
  dg.selectAll(".brdDot").data(runs.filter(r => r[1] === r[0])).join("circle")
    .attr("cx", r => x(r[0])).attr("cy", r => y(r[2])).attr("r", 1.6).attr("fill", BLUE);

  // CAS
  dg.selectAll(".cas").data(P.cas[i]).join("line")
    .attr("x1", (d, k) => x(k)).attr("x2", (d, k) => x(k + 1))
    .attr("y1", d => y(d)).attr("y2", d => y(d))
    .attr("stroke", RED).attr("stroke-width", 3);

  // MGP
  dg.append("path").datum(P.mgp[i])
    .attr("d", d3.line().x(d => x(d[0])).y(d => y(d[1])))
    .attr("fill", "none").attr("stroke", GREEN).attr("stroke-width", 2.4);

  // C/N0
  dg.append("path").datum(P.cn0[i])
    .attr("d", d3.line().defined(d => d !== null).x(d => x(d[0])).y(d => yr(d[1])))
    .attr("fill", "none").attr("stroke", MAGENTA)
    .attr("stroke-width", i < 5 ? 3.4 : 1.8).attr("stroke-linejoin", "round")
    .attr("opacity", 0.9);

  // frame
  sg.append("rect").attr("width", boxW).attr("height", boxH)
    .attr("fill", "none").attr("stroke", "#6b6b6b").attr("stroke-width", 1);
  if (col === 2) {
    sg.append("line").attr("x1", boxW).attr("x2", boxW).attr("y1", 0).attr("y2", boxH)
      .attr("stroke", MAGENTA).attr("stroke-width", 1.2);
  }

  // satellite label
  sg.append("text").attr("x", 5.5).attr("y", 21)
    .attr("font-size", 21).attr("font-weight", "bold").attr("fill", "#000").text(satNames[i]);

  // left tick labels
  sg.append("g")
    .call(d3.axisLeft(y).tickValues(yTicks).tickSize(0).tickPadding(9).tickFormat(d => String(Math.round(d * 100) / 100)))
    .call(a => a.select(".domain").remove())
    .attr("font-size", TICK_FS).attr("font-family", null)
    .call(a => a.selectAll("text").attr("fill", "#262626"));

  // right tick labels
  if (col === 2) {
    sg.append("g").attr("transform", `translate(${boxW},0)`)
      .call(d3.axisRight(yr).tickValues(cnTicks).tickSize(0).tickPadding(7))
      .call(a => a.select(".domain").remove())
      .attr("font-size", TICK_FS).attr("font-family", null)
      .call(a => a.selectAll("text").attr("fill", MAGENTA));
  }

  // bottom tick labels
  if (row === 4) {
    sg.append("g").attr("transform", `translate(0,${boxH})`)
      .call(d3.axisBottom(x).tickValues(P.xTicks).tickSize(0).tickPadding(13).tickFormat(d => String(P.start + d)))
      .call(a => a.select(".domain").remove())
      .attr("font-size", TICK_FS).attr("font-family", null)
      .call(a => a.selectAll("text").attr("fill", "#333"));
  }
}

panels.forEach((P, pi) => {
  const [ox, oy] = panelOrigin[pi];
  const g = svg.append("g").attr("transform", `translate(${ox},${oy})`);
  const sh = lowerShift[pi];

  // header line
  const parts = [
    [`Year: ${year}`, 12, "#000"], [`DOY: ${P.doy}`, 132, "#000"], [station, 279, "#000"],
    ["BRD", 348, BLUE], ["CAS", 399, RED], ["MGP", 449, GREEN]
  ];
  parts.forEach(([s, px, c]) => {
    g.append("text").attr("x", px).attr("y", 31).attr("font-size", 20).attr("fill", c).text(s);
  });

  satNames.forEach((n, i) => drawSub(g, P, pi, i));

  // axis titles
  g.append("text").attr("transform", "translate(25.5,353) rotate(-90)")
    .attr("text-anchor", "middle").attr("font-size", 21.3).attr("fill", "#000")
    .text("BDS pseudorange bias (ns)");
  const rl = g.append("text").attr("transform", `translate(${rightLabelX[pi]},355) rotate(-90)`)
    .attr("text-anchor", "middle").attr("font-size", 19.5).attr("fill", MAGENTA);
  rl.append("tspan").text("C/N");
  rl.append("tspan").attr("font-size", 13).attr("dy", 4).text("0");
  rl.append("tspan").attr("dy", -4).text(" (dB\u00b7Hz)");

  g.append("text").attr("x", 258).attr("y", 710 + sh)
    .attr("text-anchor", "middle").attr("font-size", 21).attr("fill", "#262626").text("DOY");

  const cap = g.append("text").attr("x", 258).attr("y", 745 + sh)
    .attr("text-anchor", "middle").attr("font-size", 21).attr("fill", "#000");
  cap.append("tspan").attr("font-weight", "bold").text(P.letter);
  cap.append("tspan").text(` DOY ${P.doy} in year ${year}`);
});
</script>
</body>
</html>
